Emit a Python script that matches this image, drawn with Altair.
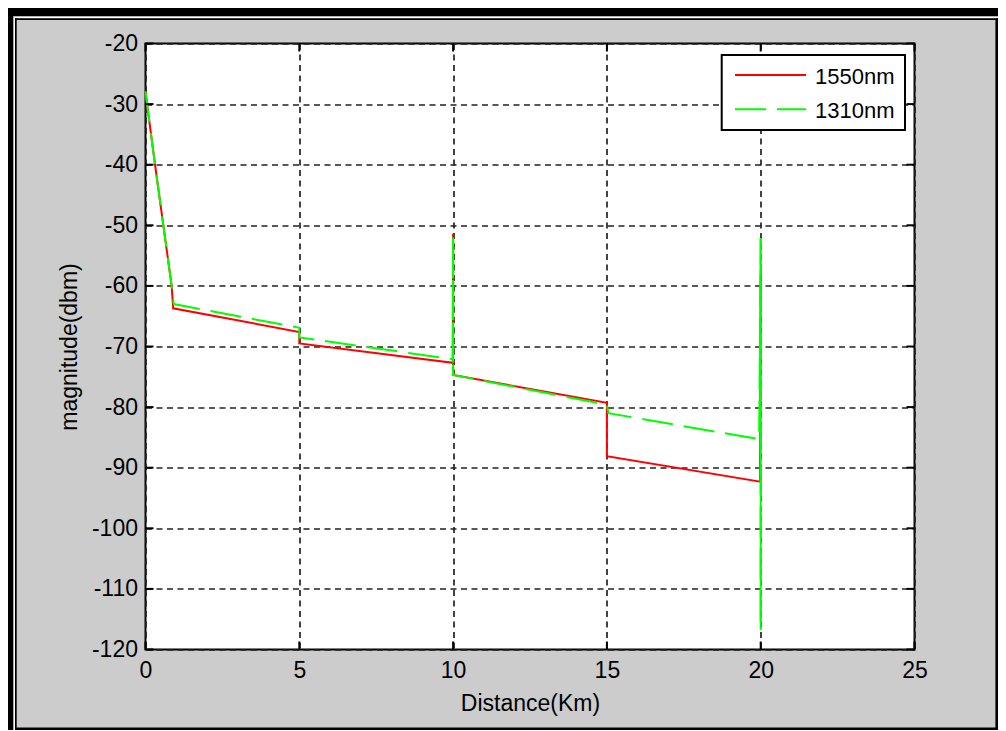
import altair as alt
import pandas as pd

# ---------------- data ----------------
series_names = ["1550nm", "1310nm"]
series_colors = ["#ff0000", "#00ff00"]

km_1550 = [0.0, 0.05, 0.31, 0.58, 0.85, 0.90, 5.0, 5.0, 9.99, 10.0, 10.0, 15.0, 15.0, 19.98, 20.0]
dbm_1550 = [-28.0, -30.0, -40.0, -50.0, -60.0, -63.7, -67.6, -69.5, -72.7, -51.4, -74.7, -79.3, -88.1, -92.3, -57.4]

km_1310 = [0.0, 0.05, 0.31, 0.58, 0.85, 0.92, 5.0, 5.0, 9.99, 10.0, 10.0, 15.0, 15.05, 19.95, 20.0, 20.0]
dbm_1310 = [-27.9, -30.0, -40.0, -50.0, -60.0, -63.0, -66.9, -68.5, -72.1, -52.0, -74.7, -79.6, -81.0, -85.3, -52.1, -116.8]

# vertical reflection spikes of the 1310nm trace (km, top, bottom)
spike_km = [10.0, 20.0, 20.0]
spike_top = [-52.0, -52.1, -80.0]
spike_bottom = [-74.7, -80.0, -116.8]

x_ticks = [0, 5, 10, 15, 20, 25]
y_ticks = [-120, -110, -100, -90, -80, -70, -60, -50, -40, -30, -20]

x_title = "Distance(Km)"
y_title = "magnitude(dbm)"

# ---------------- layout ----------------
SVG_W, SVG_H = 990, 722
W, H = 769, 606
PAD_L, PAD_T = 137.5, 35.5
PAD_R, PAD_B = SVG_W - PAD_L - W, SVG_H - PAD_T - H
FONT = "Liberation Sans"
FS = 23
FS_LEG = 22

xs = alt.Scale(domain=[0, 25], nice=False, zero=False)
ys = alt.Scale(domain=[-120, -20], nice=False, zero=False)

df_red = pd.DataFrame({"km": km_1550, "dbm": dbm_1550, "i": range(len(km_1550))})
df_green = pd.DataFrame({"km": km_1310, "dbm": dbm_1310, "i": range(len(km_1310))})

x_axis = alt.Axis(values=x_ticks, labelExpr="'' + datum.value", grid=True, gridDash=[6, 4.5],
                  gridColor="#222222", gridWidth=1.7, domain=False, ticks=False, tickSize=0,
                  labelFontSize=FS, labelFont=FONT, labelColor="black", labelPadding=10,
                  labelFlush=False, title=x_title, titleFont=FONT, titleFontSize=FS,
                  titleFontWeight="normal", titleColor="black", titlePadding=10)
y_axis = alt.Axis(values=y_ticks, labelExpr="'' + datum.value", grid=True, gridDash=[6, 4.5],
                  gridColor="#222222", gridWidth=1.7, domain=False, ticks=False, tickSize=0,
                  labelFontSize=FS, labelFont=FONT, labelColor="black", labelPadding=8,
                  labelFlush=False, title=y_title, titleFont=FONT, titleFontSize=FS,
                  titleFontWeight="normal", titleColor="black", titlePadding=10)

red_line = alt.Chart(df_red).mark_line(color=series_colors[0], strokeWidth=2).encode(
    x=alt.X("km:Q", scale=xs, axis=x_axis),
    y=alt.Y("dbm:Q", scale=ys, axis=y_axis),
    order="i:Q",
)
green_line = alt.Chart(df_green).mark_line(color=series_colors[1], strokeWidth=2,
                                            strokeDash=[31, 11]).encode(
    x=alt.X("km:Q", scale=xs),
    y=alt.Y("dbm:Q", scale=ys),
    order="i:Q",
)

spike_dashes = [[40, 2.5], [33, 10], [1000, 0]]
spike_layers = []
for k, t, b, d in zip(spike_km, spike_top, spike_bottom, spike_dashes):
    spike_layers.append(
        alt.Chart(pd.DataFrame({"km": [k], "top": [t], "bot": [b]}))
        .mark_rule(color=series_colors[1], strokeWidth=2, strokeDash=d)
        .encode(x=alt.X("km:Q", scale=xs), y=alt.Y("top:Q", scale=ys), y2="bot:Q")
    )

# inward ticks on all four sides
TL = 8
df_xt = pd.DataFrame({"v": x_ticks})
df_yt = pd.DataFrame({"v": y_ticks})
tick_layers = [
    alt.Chart(df_xt).mark_rule(color="black", strokeWidth=2).encode(
        x=alt.X("v:Q", scale=xs), y=alt.value(H), y2=alt.value(H - TL)),
    alt.Chart(df_xt).mark_rule(color="black", strokeWidth=2).encode(
        x=alt.X("v:Q", scale=xs), y=alt.value(0), y2=alt.value(TL)),
    alt.Chart(df_yt).mark_rule(color="black", strokeWidth=2).encode(
        y=alt.Y("v:Q", scale=ys), x=alt.value(0), x2=alt.value(TL)),
    alt.Chart(df_yt).mark_rule(color="black", strokeWidth=2).encode(
        y=alt.Y("v:Q", scale=ys), x=alt.value(W), x2=alt.value(W - TL)),
]

one = pd.DataFrame({"a": [0]})

# legend box (plot-relative pixels)
LX0, LX1, LY0, LY1 = 576.2, 759.5, 11.5, 86.5
legend_layers = [
    alt.Chart(one).mark_rect(fill="white", stroke="black", strokeWidth=2).encode(
        x=alt.value(LX0), x2=alt.value(LX1), y=alt.value(LY0), y2=alt.value(LY1))
]
entry_y = [31.5, 65.8]
entry_dash = [[1000, 0], [31, 11]]
for name, col, yy, dash in zip(series_names, series_colors, entry_y, entry_dash):
    legend_layers.append(
        alt.Chart(one).mark_rule(color=col, strokeWidth=2, strokeDash=dash).encode(
            x=alt.value(589.5), x2=alt.value(660.5), y=alt.value(yy)))
    legend_layers.append(
        alt.Chart(one).mark_text(align="left", baseline="middle", font=FONT, fontSize=FS_LEG,
                                 color="black").encode(
            x=alt.value(669.5), y=alt.value(yy + 1.5), text=alt.value(name)))

# figure frame: strips only, in page pixel coordinates converted to plot-relative
OX, OY = 8 + PAD_L, 8 + PAD_T
RIGHT = 8 + SVG_W          # last page pixel covered by the chart
BOTTOM = 8 + SVG_H
frame_rects = [
    # white gaps
    (13.3, 15, 16.3, BOTTOM, "white"),
    (13.3, RIGHT, 16.3, 18.3, "white"),
    # thin black frame
    (15, 16.7, 18.3, BOTTOM, "black"),
    (15, RIGHT, 18.3, 20, "black"),
    (RIGHT - 2.6, RIGHT, 18.3, BOTTOM, "black"),
    (15, RIGHT, BOTTOM - 2.6, BOTTOM, "black"),
    # thick black top / left
    (8, RIGHT, 8, 16.3, "black"),
    (8, 13.3, 8, BOTTOM, "black"),
]
frame_layers = []
for x0, x1, y0, y1, c in frame_rects:
    frame_layers.append(
        alt.Chart(one).mark_rect(color=c).encode(
            x=alt.value(x0 - OX), x2=alt.value(x1 - OX), y=alt.value(y0 - OY), y2=alt.value(y1 - OY)))

chart = alt.layer(
    *frame_layers, red_line, green_line, *spike_layers, *tick_layers, *legend_layers
).properties(
    width=W, height=H,
    autosize=alt.AutoSizeParams(type="none"),
    padding={"left": PAD_L, "top": PAD_T, "right": PAD_R, "bottom": PAD_B},
    background="#cccccc",
).configure_view(fill="white", stroke="black", strokeWidth=2)

chart.save("out.html", embed_options={"renderer": "svg", "actions": False})
